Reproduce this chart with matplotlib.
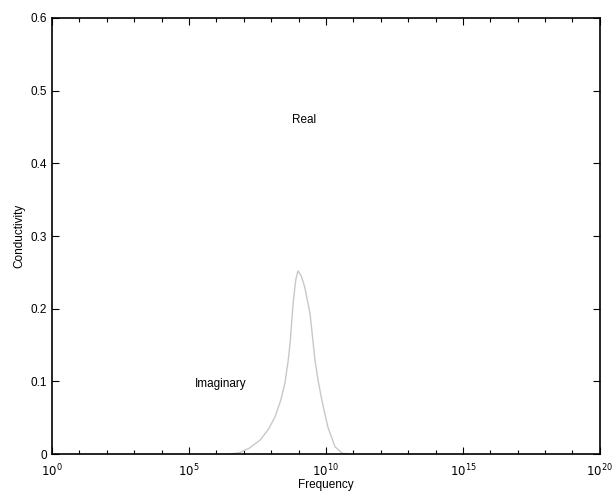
import numpy as np
import matplotlib
matplotlib.use("Agg")
import matplotlib.pyplot as plt
from matplotlib.ticker import FixedLocator, NullFormatter

# Data (log10 frequency, conductivity)
imag_logf = [6.5, 6.86, 7.2, 7.59, 7.9, 8.14, 8.35, 8.5, 8.62, 8.69, 8.8, 8.9, 8.98, 9.1, 9.23, 9.42, 9.6, 9.72, 9.85, 10.07, 10.33, 10.6, 10.9]
imag_vals = [0.0, 0.002, 0.008, 0.019, 0.034, 0.051, 0.074, 0.097, 0.128, 0.152, 0.207, 0.240, 0.252, 0.245, 0.229, 0.193, 0.129, 0.100, 0.074, 0.037, 0.010, 0.001, 0.0]
xtick_exps = [0, 5, 10, 15, 20]
yticks = [0, 0.1, 0.2, 0.3, 0.4, 0.5, 0.6]
ytick_labels = ["0", "0.1", "0.2", "0.3", "0.4", "0.5", "0.6"]

plt.rcParams['font.family'] = ['Liberation Sans', 'DejaVu Sans']

fig = plt.figure(figsize=(6.14, 4.97), dpi=100)
ax = fig.add_axes([0.0847, 0.0865, 0.8923, 0.8773])

freq = 10.0 ** np.array(imag_logf)
ax.plot(freq, imag_vals, color="#c8c8c8", lw=1.0)

ax.set_xscale("log")
ax.set_xlim(1e0, 1e20)
ax.set_ylim(0, 0.6)
ax.xaxis.set_major_locator(FixedLocator([10.0 ** e for e in xtick_exps]))
ax.set_xticklabels([f"$10^{{{e}}}$" for e in xtick_exps])
ax.xaxis.set_minor_locator(FixedLocator([10.0 ** e for e in range(0, 21)]))
ax.xaxis.set_minor_formatter(NullFormatter())
ax.set_yticks(yticks)
ax.set_yticklabels(ytick_labels)

ax.tick_params(which="both", direction="in", top=True, right=True, labelsize=8.5, width=0.8)
ax.tick_params(which="major", length=5)
ax.tick_params(which="minor", length=3)
ax.tick_params(axis="x", which="major", pad=6)
for s in ax.spines.values():
    s.set_linewidth(1.2)

ax.set_xlabel("Frequency", fontsize=8.5, labelpad=0)
ax.set_ylabel("Conductivity", fontsize=8.5, labelpad=4)

ax.text(10 ** 9.2, 0.46, "Real", fontsize=8.5, ha="center", va="center")
ax.text(10 ** 6.15, 0.097, "Imaginary", fontsize=8.5, ha="center", va="center")

fig.savefig("out.png", dpi=100)
